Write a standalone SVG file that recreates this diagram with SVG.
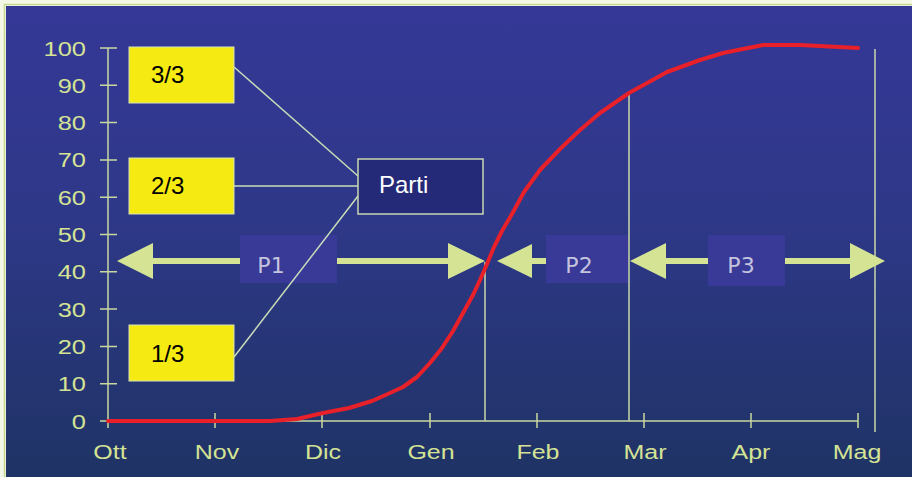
<svg xmlns="http://www.w3.org/2000/svg" width="912" height="477" viewBox="0 0 912 477">
  <defs>
    <linearGradient id="bg" x1="0" y1="0" x2="0" y2="1">
      <stop offset="0" stop-color="#353897"/>
      <stop offset="0.45" stop-color="#2e3888"/>
      <stop offset="1" stop-color="#1f3365"/>
    </linearGradient>
    <style>
      .axis { stroke: #c9d8a0; stroke-width: 1.5; fill: none; }
      .vline { stroke: #c9d8a8; stroke-width: 1.5; fill: none; }
      .ylab { font-family: "Liberation Sans", Arial, sans-serif; font-size: 20px; fill: #d4e394; text-anchor: end; }
      .xlab { font-family: "Liberation Sans", Arial, sans-serif; font-size: 20px; fill: #d4e394; text-anchor: middle; }
      .ybox { fill: #f5ea12; stroke: #d5e2b5; stroke-width: 1; }
      .ytxt { font-family: "Liberation Sans", Arial, sans-serif; font-size: 24px; fill: #000000; }
      .parti { fill: #252a78; stroke: #c8d8b0; stroke-width: 1.5; }
      .ptxt { font-family: "Liberation Sans", Arial, sans-serif; font-size: 24px; fill: #ffffff; }
      .conn { stroke: #c8dcb8; stroke-width: 1.5; fill: none; }
      .arrow { fill: #d4e394; }
      .shaft { stroke: #d4e394; stroke-width: 6; fill: none; }
      .pbox { fill: #393a98; }
      .plab { font-family: "DejaVu Sans", Verdana, sans-serif; font-size: 22px; fill: #c4c4de; text-anchor: middle; }
      .curve { stroke: #e8202a; stroke-width: 4; fill: none; stroke-linejoin: round; stroke-linecap: round; }
    </style>
  </defs>

  <!-- frame and background -->
  <rect x="0" y="0" width="912" height="477" fill="#f3f7e6"/>
  <path d="M4.5,477 V4.5 H912" stroke="#c8d890" stroke-width="1.5" fill="none"/>
  <rect x="6" y="6" width="906" height="471" fill="url(#bg)"/>

  <!-- y axis -->
  <g id="y-axis">
    <line class="axis" x1="108" y1="48" x2="108" y2="428"/>
    <path class="axis" d="M100,48 H117 M100,85.3 H117 M100,122.6 H117 M100,159.9 H117 M100,197.2 H117 M100,234.5 H117 M100,271.8 H117 M100,309.1 H117 M100,346.4 H117 M100,383.7 H117"/>
    <text class="ylab" transform="translate(86,55.5) scale(1.27,1)">100</text>
    <text class="ylab" transform="translate(86,92.8) scale(1.27,1)">90</text>
    <text class="ylab" transform="translate(86,130.1) scale(1.27,1)">80</text>
    <text class="ylab" transform="translate(86,167.4) scale(1.27,1)">70</text>
    <text class="ylab" transform="translate(86,204.7) scale(1.27,1)">60</text>
    <text class="ylab" transform="translate(86,242) scale(1.27,1)">50</text>
    <text class="ylab" transform="translate(86,279.3) scale(1.27,1)">40</text>
    <text class="ylab" transform="translate(86,316.6) scale(1.27,1)">30</text>
    <text class="ylab" transform="translate(86,353.9) scale(1.27,1)">20</text>
    <text class="ylab" transform="translate(86,391.2) scale(1.27,1)">10</text>
    <text class="ylab" transform="translate(86,428.5) scale(1.27,1)">0</text>
  </g>

  <!-- x axis -->
  <g id="x-axis">
    <line class="axis" x1="100" y1="421" x2="858" y2="421"/>
    <path class="axis" d="M215,413 V428 M322,413 V428 M430,413 V428 M537,413 V428 M644,413 V428 M751,413 V428 M858,413 V428"/>
    <text class="xlab" transform="translate(110,459) scale(1.25,1)">Ott</text>
    <text class="xlab" transform="translate(217,459) scale(1.25,1)">Nov</text>
    <text class="xlab" transform="translate(323,459) scale(1.25,1)">Dic</text>
    <text class="xlab" transform="translate(431,459) scale(1.25,1)">Gen</text>
    <text class="xlab" transform="translate(538,459) scale(1.25,1)">Feb</text>
    <text class="xlab" transform="translate(645,459) scale(1.25,1)">Mar</text>
    <text class="xlab" transform="translate(751,459) scale(1.25,1)">Apr</text>
    <text class="xlab" transform="translate(857,459) scale(1.25,1)">Mag</text>
  </g>

  <!-- vertical period lines -->
  <g id="period-lines">
    <line class="vline" x1="485" y1="262" x2="485" y2="421"/>
    <line class="vline" x1="629" y1="93" x2="629" y2="421"/>
    <line class="vline" x1="875" y1="49" x2="875" y2="432"/>
  </g>

  <!-- period arrows -->
  <g id="arrow-p1">
    <line class="shaft" x1="150" y1="261" x2="451" y2="261"/>
    <polygon class="arrow" points="117,261 153,243 153,279"/>
    <polygon class="arrow" points="485,261 448,243 448,279"/>
    <rect class="pbox" x="240" y="235" width="97" height="48"/>
    <text class="plab" x="271" y="273">P1</text>
  </g>
  <g id="arrow-p2">
    <line class="shaft" x1="529" y1="261" x2="628" y2="261"/>
    <polygon class="arrow" points="497,261 532,244 532,278"/>
    <rect class="pbox" x="546" y="235" width="82" height="48"/>
    <text class="plab" x="579" y="273">P2</text>
  </g>
  <g id="arrow-p3">
    <line class="shaft" x1="663" y1="261" x2="853" y2="261"/>
    <polygon class="arrow" points="630,261 666,243 666,279"/>
    <polygon class="arrow" points="885,261 850,243 850,279"/>
    <rect class="pbox" x="708" y="235" width="77" height="51"/>
    <text class="plab" x="741" y="273">P3</text>
  </g>

  <!-- S curve -->
  <polyline class="curve" points="108,421 270,421 297,419 323,413 349,408 372,401 390,393 403,387 417,377 430,363 442,348 453,331 463,313 473,295 480,280 487,264 494,247 502,231 512,214 524,192 540,170 560,149 580,130 600,113 629,93 667,72 700,60 723,53 763,45 800,45 858,48"/>

  <!-- connectors -->
  <g id="connectors">
    <line class="conn" x1="234" y1="67" x2="358" y2="176"/>
    <line class="conn" x1="234" y1="186" x2="358" y2="186"/>
    <line class="conn" x1="234" y1="357" x2="358" y2="196"/>
  </g>

  <!-- nodes -->
  <g id="node-3-3">
    <rect class="ybox" x="129" y="47" width="105" height="56"/>
    <text class="ytxt" x="151" y="83">3/3</text>
  </g>
  <g id="node-2-3">
    <rect class="ybox" x="129" y="158" width="105" height="56"/>
    <text class="ytxt" x="151" y="194">2/3</text>
  </g>
  <g id="node-1-3">
    <rect class="ybox" x="129" y="325" width="105" height="56"/>
    <text class="ytxt" x="151" y="362">1/3</text>
  </g>
  <g id="node-parti">
    <rect class="parti" x="358" y="159" width="125" height="55"/>
    <text class="ptxt" x="379" y="193">Parti</text>
  </g>
</svg>
